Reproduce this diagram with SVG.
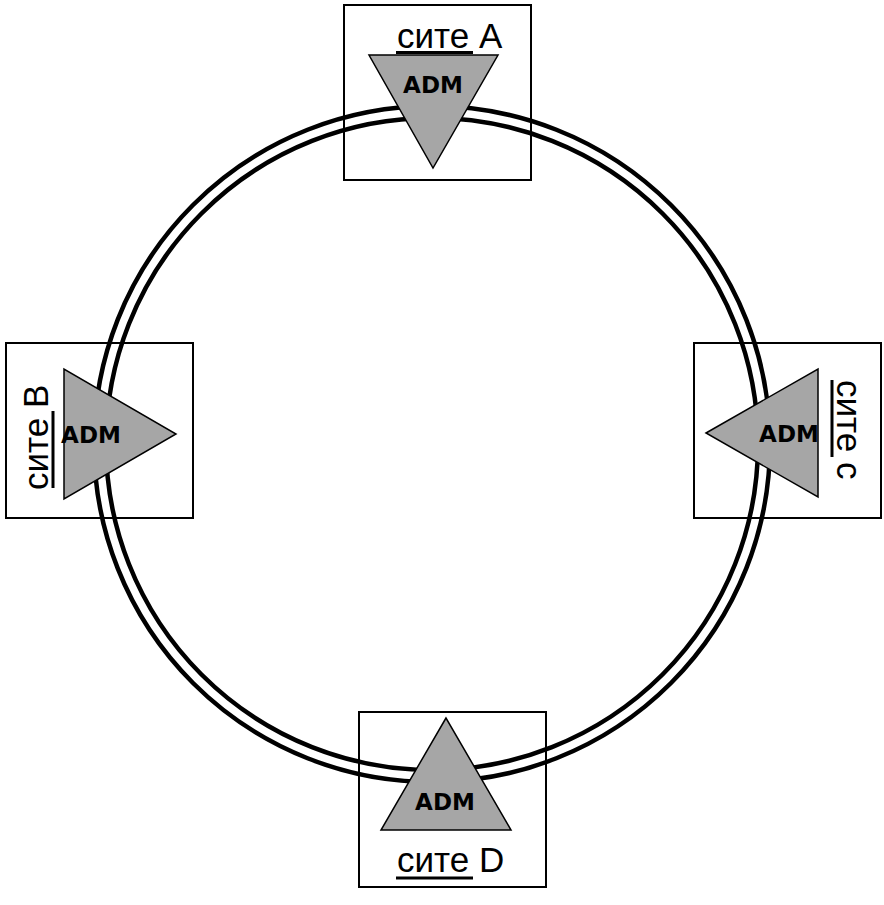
<svg xmlns="http://www.w3.org/2000/svg" width="884" height="905" viewBox="0 0 884 905">
<style>
.box{fill:none;stroke:#000;stroke-width:2}
.ring{fill:none;stroke:#000;stroke-width:4.5}
.tri{fill:#a6a6a6;stroke:#000;stroke-width:1.5;stroke-linejoin:miter}
.adm{font-family:"DejaVu Sans",sans-serif;font-weight:bold;font-size:23px;fill:#000;text-anchor:middle}
.lbl{font-family:"Liberation Sans",Arial,sans-serif;font-size:35px;fill:#000}
.ul{stroke:#000;stroke-width:3}
</style>
<rect width="884" height="905" fill="#fff"/>
<g id="boxes">
<rect class="box" x="344" y="5" width="187" height="175"/>
<rect class="box" x="6" y="343" width="187" height="175"/>
<rect class="box" x="694" y="343" width="187" height="175"/>
<rect class="box" x="359" y="712" width="187" height="175"/>
</g>
<g id="connectors">
<circle class="ring" cx="432" cy="444" r="338"/>
<circle class="ring" cx="432" cy="444" r="326"/>
</g>
<g id="site-A">
<polygon class="tri" points="369,55 498,55 433,168"/>
<text class="adm" x="433" y="93">ADM</text>
<text class="lbl" x="397" y="48">сите A</text>
<line class="ul" x1="396" y1="52.5" x2="473" y2="52.5"/>
</g>
<g id="site-B">
<polygon class="tri" points="64,369 64,499 176,434"/>
<text class="adm" x="91" y="443">ADM</text>
<text class="lbl" transform="translate(48,490) rotate(-90)">сите B</text>
<line class="ul" x1="53" y1="488" x2="53" y2="411"/>
</g>
<g id="site-C">
<polygon class="tri" points="706,433 818,369 818,497"/>
<text class="adm" x="789" y="442">ADM</text>
<text class="lbl" transform="translate(837,380) rotate(90)">сите c</text>
<line class="ul" x1="832" y1="380" x2="832" y2="457"/>
</g>
<g id="site-D">
<polygon class="tri" points="446,718 381,830 511,830"/>
<text class="adm" x="445" y="810">ADM</text>
<text class="lbl" x="397" y="872">сите D</text>
<line class="ul" x1="396" y1="878" x2="473" y2="878"/>
</g>
</svg>
